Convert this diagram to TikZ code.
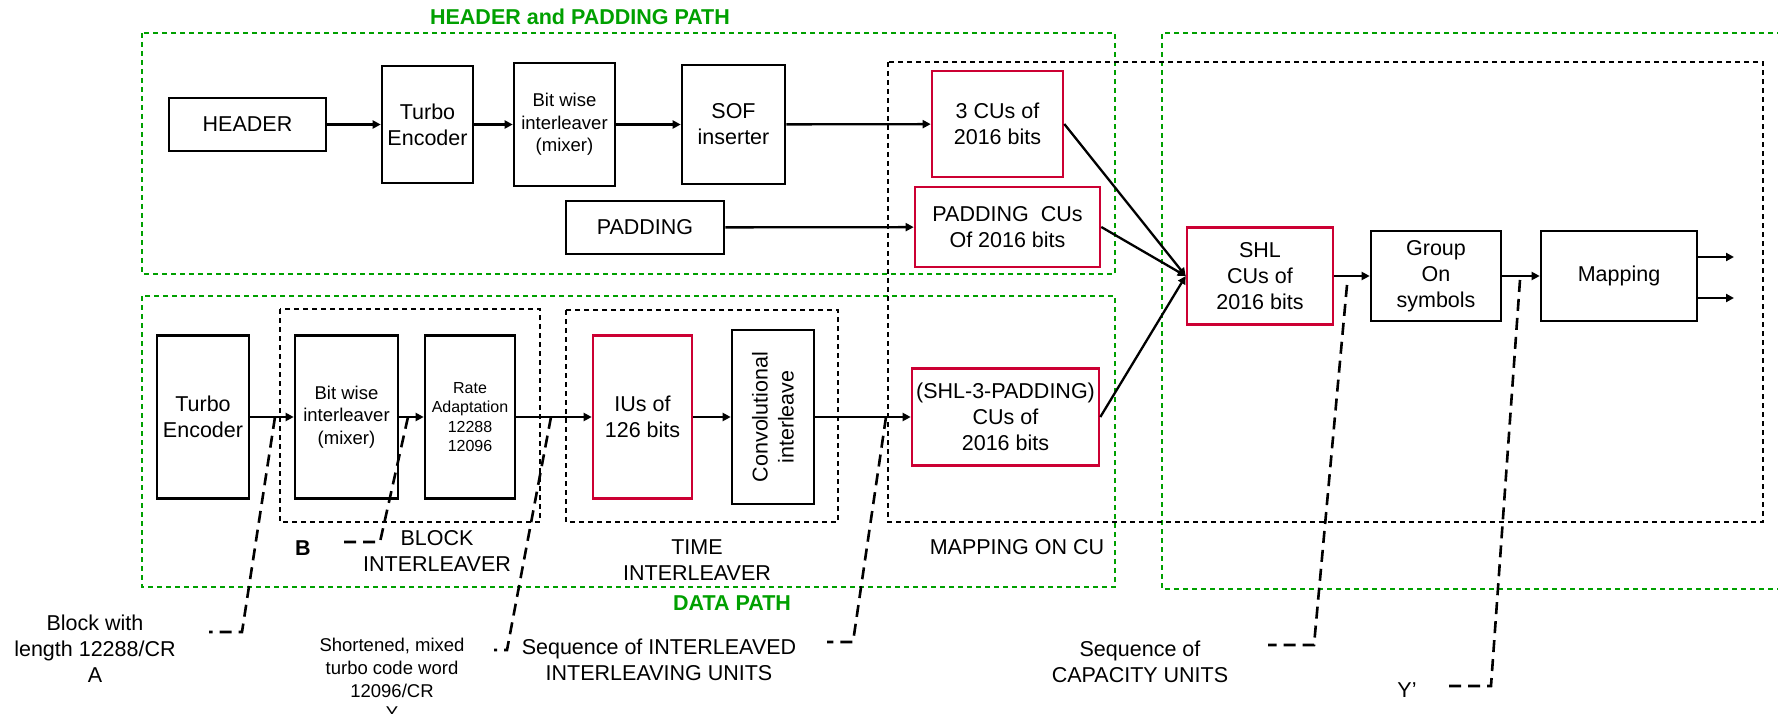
\documentclass[tikz,border=0pt]{standalone}
\usepackage{fontspec}
\setmainfont{Liberation Sans}
\usetikzlibrary{arrows.meta}
\definecolor{cured}{RGB}{204,0,51}
\definecolor{pathgreen}{RGB}{0,160,0}
\newcommand\fsmain{\fontsize{21.5}{26}\selectfont}
\newcommand\fssmall{\fontsize{18.5}{22.7}\selectfont}
\newcommand\fsrate{\fontsize{16}{19.3}\selectfont}

\begin{document}
\begin{tikzpicture}[x=1pt,y=-1pt,
  blk/.style={draw,line width=2.6pt,align=center,inner sep=0pt,font=\fsmain},
  cublk/.style={blk,draw=cured},
  arr/.style={-{Triangle[length=8pt,width=8pt]},line width=2.3pt},
  grn/.style={draw=pathgreen,line width=1.6pt,dash pattern=on 5pt off 4pt},
  sub/.style={line width=1.5pt,dash pattern=on 5pt off 4pt},
  lead/.style={line width=2.6pt,dash pattern=on 12pt off 7pt},
  lbl/.style={align=center,font=\fsmain}]
\useasboundingbox (0,0) rectangle (1778,714);

% dashed regions
\draw[grn] (142,33) rectangle (1115,274);
\draw[grn] (142,296) rectangle (1115,587);
\draw[grn] (1800,33) -- (1162,33) -- (1162,589) -- (1800,589);
\draw[sub] (888,62) rectangle (1763,522);
\draw[sub] (280,309) rectangle (540,522);
\draw[sub] (566,310) rectangle (838,522);
\node[lbl,text=pathgreen,font=\fsmain\bfseries] (hptitle) at (580,17) {HEADER and PADDING PATH};
\node[lbl,text=pathgreen,font=\fsmain\bfseries] (dptitle) at (732,603) {DATA PATH};

% header path
\node[blk,minimum width=157pt,minimum height=53pt] (hdr) at (247.5,124.5) {HEADER};
\node[blk,minimum width=91pt,minimum height=117pt] (hte) at (427.5,124.5) {Turbo\\Encoder};
\node[blk,font=\fssmall,minimum width=101pt,minimum height=123pt] (hbw) at (564.5,124.5) {Bit wise\\interleaver\\(mixer)};
\node[blk,minimum width=103pt,minimum height=119pt] (sof) at (733.5,124.5) {SOF\\inserter};
\node[blk,minimum width=158pt,minimum height=53pt] (pad) at (645,227.5) {PADDING};
\node[cublk,minimum width=131pt,minimum height=106pt] (cu3) at (997.5,124) {3 CUs of\\2016 bits};
\node[cublk,minimum width=185pt,minimum height=80pt] (pcu) at (1007.5,227) {PADDING\ \ CUs\\Of 2016 bits};

% data path
\node[blk,minimum width=92pt,minimum height=163pt] (dte) at (203,417) {Turbo\\Encoder};
\node[blk,font=\fssmall,minimum width=103pt,minimum height=163pt] (dbw) at (346.5,417) {Bit wise\\interleaver\\(mixer)};
\node[blk,font=\fsrate,minimum width=90pt,minimum height=163pt] (rate) at (470,417) {Rate\\Adaptation\\12288\\12096};
\node[cublk,minimum width=99pt,minimum height=163pt] (ius) at (642.5,417) {IUs of\\126 bits};
\node[blk,rotate=90,minimum width=174pt,minimum height=82pt] (conv) at (773,417) {Convolutional\\interleave};
\node[cublk,minimum width=187pt,minimum height=97pt] (s3p) at (1005.5,417) {(SHL-3-PADDING)\\CUs of\\2016 bits};

% mapping
\node[cublk,minimum width=146pt,minimum height=97pt] (shl) at (1260,276) {SHL\\CUs of\\2016 bits};
\node[blk,minimum width=130pt,minimum height=90pt] (grp) at (1436,276) {Group\\On\\symbols};
\node[blk,minimum width=156pt,minimum height=90pt] (map) at (1619,276) {Mapping};
\coordinate (o1) at (1734,257);
\coordinate (o2) at (1734,298);

\draw[arr] (hdr) -- (hte);
\draw[arr] (hte) -- (hbw);
\draw[arr] (hbw) -- (sof);
\draw[arr] (sof) -- (cu3);
\draw[arr] (pad) -- (pcu);
\draw[arr] (dte) -- (dbw);
\draw[arr] (dbw) -- (rate);
\draw[arr] (rate) -- (ius);
\draw[arr] (ius) -- (conv);
\draw[arr] (conv) -- (s3p);
\draw[arr] (cu3.east) -- (shl.west);
\draw[arr] (pcu.east) -- (shl.west);
\draw[arr] (s3p.east) -- (shl.west);
\draw[arr] (shl) -- (grp);
\draw[arr] (grp) -- (map);
\draw[arr] (map.east |- o1) -- (o1);
\draw[arr] (map.east |- o2) -- (o2);

% labels
\node[lbl,font=\fsmain\bfseries] (blab) at (303,548) {B};
\node[lbl] (blkint) at (437,551) {BLOCK\\INTERLEAVER};
\node[lbl] (timint) at (697,560) {TIME\\INTERLEAVER};
\node[lbl] (mapcu) at (1017,547) {MAPPING ON CU};
\node[lbl] (lA) at (95,649) {Block with\\length 12288/CR\\A};
\node[lbl,font=\fssmall] (lY) at (392,679) {Shortened, mixed\\turbo code word\\12096/CR\\Y};
\node[lbl] (lIU) at (659,660) {Sequence of INTERLEAVED\\INTERLEAVING UNITS};
\node[lbl] (lCU) at (1140,662) {Sequence of\\CAPACITY UNITS};
\node[lbl] (lYp) at (1407,690) {Y’};

% leader lines
\coordinate (t1) at (275,417);
\coordinate (t2) at (408,417);
\coordinate (t3) at (551,417);
\coordinate (t4) at (886,417);
\coordinate (t5) at (1347,285);
\coordinate (t6) at (1520,280);
\draw[lead] (t1) -- (242,632) -- (209,632);
\draw[lead] (t2) -- (380,542) -- (339,542);
\draw[lead] (t3) -- (507,650) -- (494,650);
\draw[lead] (t4) -- (853,642) -- (827,642);
\draw[lead] (t5) -- (1314,645) -- (1268,645);
\draw[lead] (t6) -- (1491,686) -- (1444,686);
\end{tikzpicture}
\end{document}
